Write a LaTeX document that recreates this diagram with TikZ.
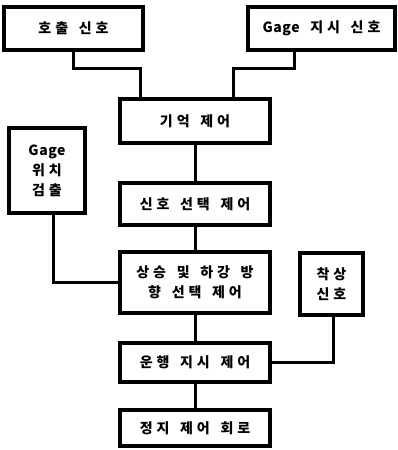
\documentclass[tikz,border=0pt]{standalone}
\usepackage{fontspec}
\newfontfamily\kr{Noto Sans CJK KR}[LetterSpace=28,WordSpace=1.5]
\newfontfamily\krlat{Noto Sans CJK KR}[LetterSpace=4]
\begin{document}
\begin{tikzpicture}[x=1pt,y=-1pt,
  box/.style={draw,line width=3.2pt,fill=white,inner sep=0pt,align=center,
    font=\kr\bfseries\fontsize{14}{20}\selectfont},
  link/.style={line width=3pt}]
\useasboundingbox (0,0) rectangle (397,450);
% input signals
\node[box,minimum width=139pt,minimum height=43pt] (call) at (73.5,28.5) {호출 신호};
\node[box,minimum width=147pt,minimum height=43pt] (gind) at (321.5,28.5) {{\krlat Gage} 지시 신호};
% main chain
\node[box,minimum width=150pt,minimum height=44pt] (mem) at (195,121) {기억 제어};
\node[box,minimum width=150pt,minimum height=42pt] (sel) at (195,204) {신호 선택 제어};
\node[box,minimum width=150pt,minimum height=61pt] (dir) at (195,282.5) {상승 및 하강 방\\향 선택 제어};
\node[box,minimum width=150pt,minimum height=39pt] (run) at (195,362.5) {운행 지시 제어};
\node[box,minimum width=150pt,minimum height=36pt] (stop) at (195,428) {정지 제어 회로};
% side inputs
\node[box,minimum width=76pt,minimum height=85pt] (gpos) at (47,170.5) {{\krlat Gage}\\위치\\검출};
\node[box,minimum width=63pt,minimum height=62pt] (land) at (331.5,284) {착상\\신호};
% connectors
\draw[link] (call.south) -- ++(0,17) -| ([xshift=-55pt]mem.north);
\draw[link] ([xshift=-27pt]gind.south) -- ++(0,17) -| ([xshift=38pt]mem.north);
\draw[link] (mem.south) -- (sel.north);
\draw[link] (sel.south) -- (dir.north);
\draw[link] (dir.south) -- (run.north);
\draw[link] (run.south) -- (stop.north);
\draw[link] ([xshift=6pt]gpos.south) |- (dir.west);
\draw[link] ([xshift=1.5pt]land.south) |- (run.east);
\end{tikzpicture}
\end{document}
